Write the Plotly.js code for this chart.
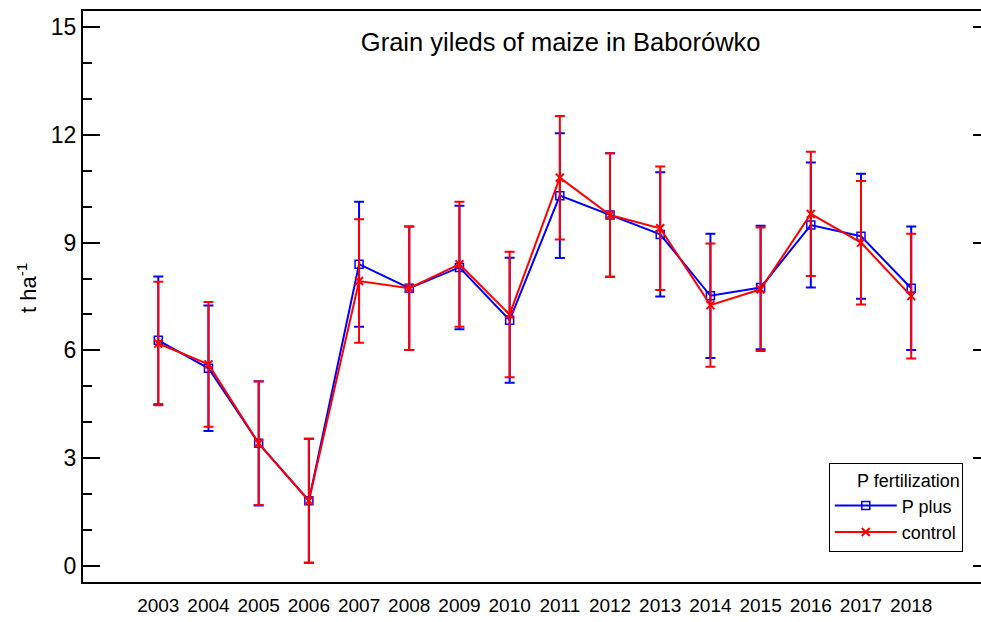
<!DOCTYPE html>
<html>
<head>
<meta charset="utf-8">
<script src="https://cdn.plot.ly/plotly-3.0.1.min.js"></script>
<style>
html,body{margin:0;padding:0;overflow:hidden;background:#fff;}
#chart{width:1000px;height:622px;}
</style>
</head>
<body>
<div id="chart"></div>
<script>
const years = [2003,2004,2005,2006,2007,2008,2009,2010,2011,2012,2013,2014,2015,2016,2017,2018];
const tickLabels = ["2003","2004","2005","2006","2007","2008","2009","2010","2011","2012","2013","2014","2015","2016","2017","2018"];
const pPlus    = [6.28,5.50,3.41,1.81,8.40,7.73,8.31,6.84,10.31,9.77,9.23,7.52,7.75,9.49,9.18,7.73];
const pPlusErr = [1.78,1.75,1.73,1.73,1.74,1.72,1.72,1.74,1.74,1.72,1.73,1.73,1.72,1.74,1.74,1.72];
const control    = [6.19,5.61,3.41,1.81,7.93,7.73,8.40,7.00,10.81,9.77,9.40,7.26,7.70,9.80,9.00,7.51];
const controlErr = [1.72,1.74,1.72,1.73,1.72,1.72,1.74,1.75,1.72,1.72,1.72,1.72,1.72,1.73,1.72,1.74];
const yTicks = [0,3,6,9,12,15];

const FONT = "Liberation Sans, Arial, sans-serif";

const traces = [
  {
    x: years, y: pPlus, name: "P plus", type: "scatter", mode: "lines+markers",
    line: {color: "#0000FF", width: 2},
    marker: {symbol: "square-open", size: 8, color: "#0000FF", line: {width: 1.5, color: "#0000FF"}},
    error_y: {type: "data", array: pPlusErr, visible: true, color: "#0000FF", thickness: 2, width: 5}
  },
  {
    x: years, y: control, name: "control", type: "scatter", mode: "lines+markers",
    line: {color: "#FF0000", width: 2},
    marker: {symbol: "x-thin", size: 8, color: "#FF0000", line: {width: 2, color: "#FF0000"}},
    error_y: {type: "data", array: controlErr, visible: true, color: "#FF0000", thickness: 2, width: 5}
  }
];

const layout = {
  width: 1000, height: 622,
  margin: {l: 83, r: 10, t: 11, b: 40},
  paper_bgcolor: "#fff", plot_bgcolor: "#fff",
  font: {family: FONT, color: "#000"},
  title: {
    text: "Grain yileds of maize in Baborówko",
    font: {family: FONT, size: 25.5, color: "#000"},
    xref: "paper", x: 0.5267, xanchor: "center",
    yref: "container", y: 1 - 42/622, yanchor: "middle"
  },
  xaxis: {
    range: [2001.5, 2019.57],
    tickvals: years, ticktext: tickLabels,
    ticks: "", showgrid: false, zeroline: false,
    showline: true, linecolor: "#000", linewidth: 2, mirror: true,
    ticklabelstandoff: 5,
    tickfont: {family: FONT, size: 19, color: "#000"}
  },
  yaxis: {
    range: [-0.454, 15.454],
    tickvals: yTicks, ticktext: yTicks.map(String),
    ticks: "inside", ticklen: 17, tickwidth: 2, tickcolor: "#000",
    minor: {dtick: 1, ticks: "inside", ticklen: 9, tickwidth: 2, tickcolor: "#000"},
    showgrid: false, zeroline: false,
    showline: true, linecolor: "#000", linewidth: 2, mirror: "ticks",
    tickfont: {family: FONT, size: 23, color: "#000"}
  },
  annotations: [{
    text: "t ha<sup>-1</sup>", textangle: -90,
    xref: "paper", yref: "paper",
    x: (27 - 83)/907, y: (582 - 288)/571,
    xanchor: "center", yanchor: "middle", showarrow: false,
    font: {family: FONT, size: 22, color: "#000"}
  }],
  showlegend: true,
  legend: {
    x: 0.970, xanchor: "right", y: (582-463)/571, yanchor: "top",
    bgcolor: "#fff", bordercolor: "#000", borderwidth: 1,
    font: {family: FONT, size: 18, color: "#000"},
    title: {text: "P fertilization", side: "top right", font: {family: FONT, size: 18, color: "#000"}},
    itemwidth: 62
  }
};

Plotly.newPlot("chart", traces, layout, {displayModeBar: false, staticPlot: true});
</script>
</body>
</html>
